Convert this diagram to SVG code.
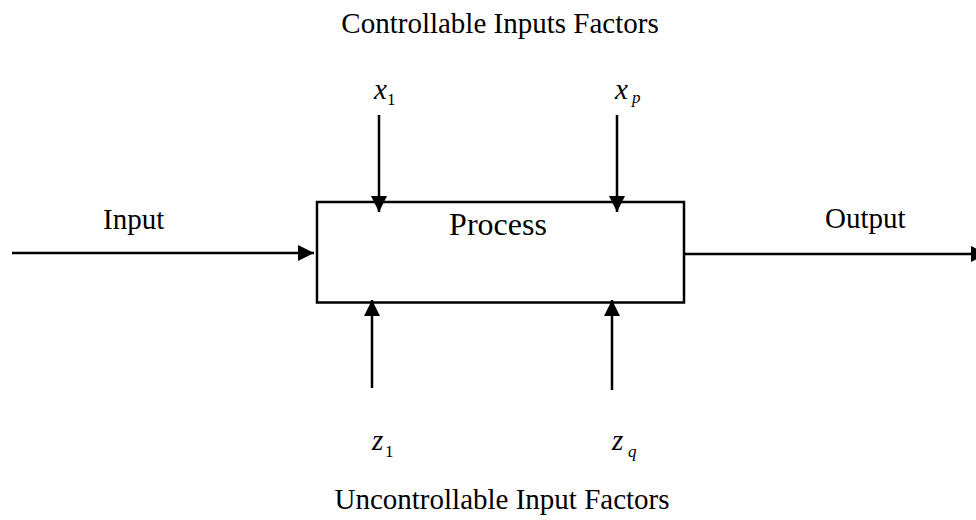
<svg xmlns="http://www.w3.org/2000/svg" width="976" height="520" viewBox="0 0 976 520">
<style>
text{font-family:"Liberation Serif","Times New Roman",serif;fill:#000}
.lbl{font-size:29px}
.proc{font-size:32px}
.var{font-size:29px;font-style:italic}
.sub{font-size:17px}
.subi{font-size:17px;font-style:italic}
.edge{stroke:#000;stroke-width:2.5;fill:none;marker-end:url(#ah)}
</style>
<defs>
<marker id="ah" markerUnits="userSpaceOnUse" markerWidth="17" markerHeight="16" refX="16" refY="8" orient="auto" viewBox="0 0 17 16">
<path d="M0,0 L16,8 L0,16 z" fill="#000"/>
</marker>
</defs>
<rect width="976" height="520" fill="#fff"/>
<text class="lbl" x="500" y="33" text-anchor="middle">Controllable Inputs Factors</text>
<text class="lbl" x="502" y="509" text-anchor="middle">Uncontrollable Input Factors</text>
<g id="process">
<rect x="317" y="202" width="367" height="100.5" fill="#fff" stroke="#000" stroke-width="2.5"/>
<text class="proc" x="498" y="235" text-anchor="middle">Process</text>
</g>
<g id="input-label"><text class="lbl" x="103" y="229">Input</text></g>
<g id="output-label"><text class="lbl" x="825" y="228">Output</text></g>
<g id="x1"><text x="374" y="99"><tspan class="var">x</tspan><tspan class="sub" x="387" y="105">1</tspan></text></g>
<g id="xp"><text x="615" y="99"><tspan class="var">x</tspan><tspan class="subi" x="632" y="103">p</tspan></text></g>
<g id="z1"><text x="372" y="450"><tspan class="var">z</tspan><tspan class="sub" x="385" y="457">1</tspan></text></g>
<g id="zq"><text x="612" y="450"><tspan class="var">z</tspan><tspan class="subi" x="628" y="457">q</tspan></text></g>
<g id="connectors">
<line class="edge" x1="12" y1="253" x2="314" y2="253"/>
<line class="edge" x1="684" y1="254" x2="987" y2="254"/>
<line class="edge" x1="379" y1="115" x2="379" y2="212"/>
<line class="edge" x1="617" y1="115" x2="617" y2="212"/>
<line class="edge" x1="372" y1="388" x2="372" y2="300"/>
<line class="edge" x1="612" y1="390" x2="612" y2="300"/>
</g>
</svg>
